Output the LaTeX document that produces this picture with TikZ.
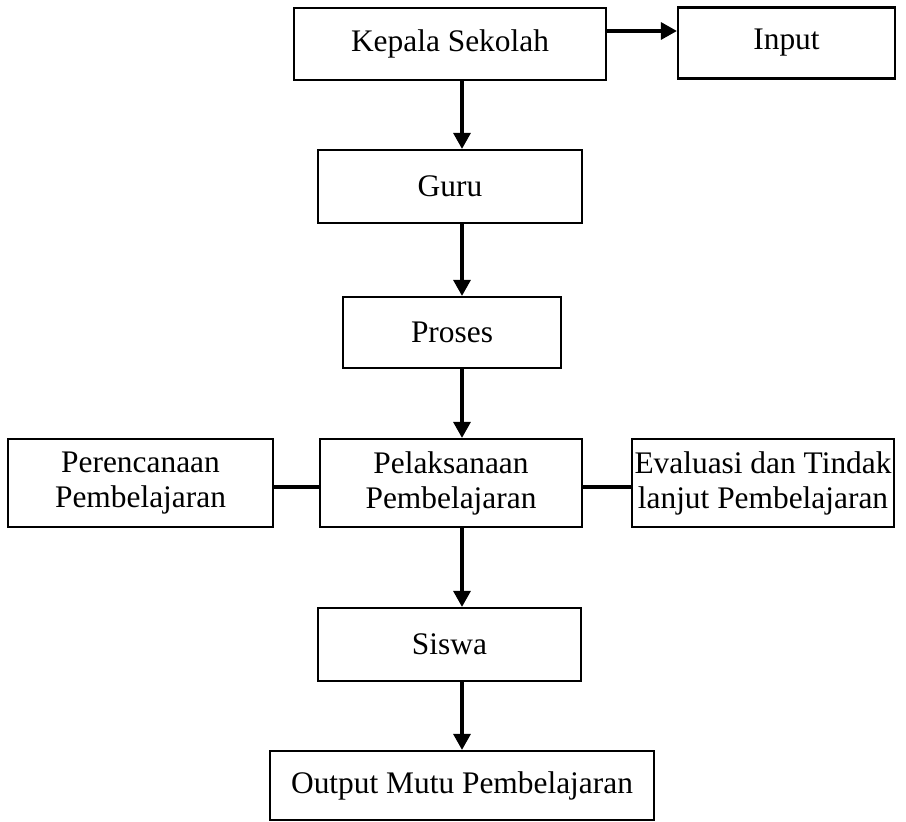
\documentclass[tikz,border=0pt]{standalone}
\usepackage{fontspec}
\setmainfont{Liberation Serif}
\usetikzlibrary{arrows.meta}
\tikzset{>={Triangle[length=8pt,width=8.5pt]}}
\tikzstyle{box}=[rectangle,draw=black,line width=1.1pt,inner sep=0pt,align=center,font=\fontsize{15.7}{17.5}\selectfont]
\tikzstyle{link}=[line width=1.6pt]

\begin{document}
\begin{tikzpicture}[x=0.5pt,y=-0.5pt]
	\useasboundingbox (0,0) rectangle (906,822);
	\coordinate (spine) at (462,0);
	\coordinate (inrow) at (0,31);
	\coordinate (siderow) at (0,487);

	\node[box,minimum width=156pt,minimum height=36pt] (kepala) at (450,44) {Kepala Sekolah};
	\node[box,minimum width=108.5pt,minimum height=35.5pt] (input) at (786.5,43) {Input};
	\node[box,minimum width=132pt,minimum height=36.5pt] (guru) at (450,186.5) {Guru};
	\node[box,minimum width=109pt,minimum height=35.5pt] (proses) at (452,332.5) {Proses};

	\node[box,minimum width=132.5pt,minimum height=44pt] (perencanaan) at (140.5,483) {Perencanaan\\Pembelajaran};
	\node[box,minimum width=131pt,minimum height=44pt] (pelaksanaan) at (451,483) {Pelaksanaan\\Pembelajaran};
	\node[box,minimum width=131pt,minimum height=44pt] (evaluasi) at (763,483) {Evaluasi dan Tindak\\lanjut Pembelajaran};

	\node[box,minimum width=131.5pt,minimum height=36.5pt] (siswa) at (449.5,644.5) {Siswa};
	\node[box,minimum width=192pt,minimum height=34.5pt] (output) at (462,785.5) {Output Mutu Pembelajaran};

	\draw[link,->] (kepala.east |- inrow) -- (input.west |- inrow);

	\foreach \a/\b in {kepala/guru,guru/proses,proses/pelaksanaan,pelaksanaan/siswa,siswa/output} {
		\draw[link,->] (\a.south -| spine) -- (\b.north -| spine);
	};

	\draw[line width=1.8pt] (perencanaan.east |- siderow) -- (pelaksanaan.west |- siderow);
	\draw[line width=1.8pt] (pelaksanaan.east |- siderow) -- (evaluasi.west |- siderow);
\end{tikzpicture}
\end{document}
